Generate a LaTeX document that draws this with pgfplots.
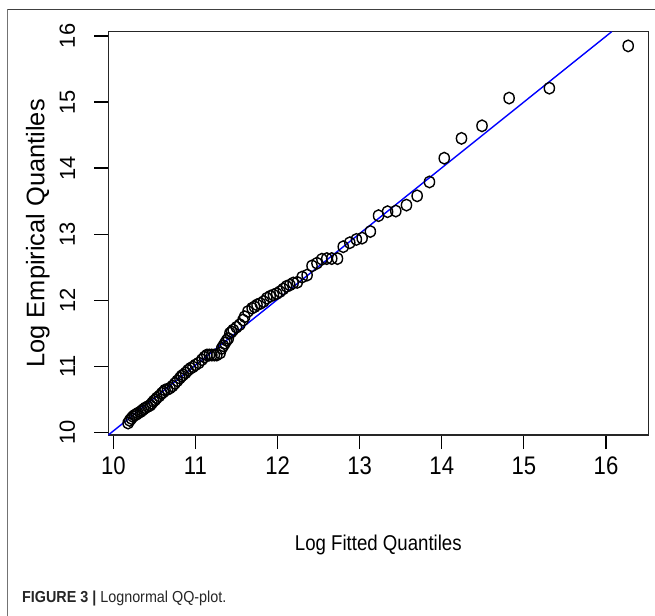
\documentclass[border=0pt]{standalone}
\usepackage{fontspec}
\setmainfont{Liberation Sans}
\newfontfamily\nfont[FakeStretch=0.87]{Liberation Sans}
\newfontfamily\cfont[FakeStretch=0.9]{Liberation Sans}
\usepackage{pgfplots}
\pgfplotsset{compat=1.18}
\pgfplotstableread{
x y
10.18 10.14
10.20 10.18
10.22 10.21
10.24 10.24
10.26 10.26
10.28 10.27
10.30 10.29
10.33 10.31
10.35 10.33
10.37 10.35
10.39 10.37
10.42 10.39
10.45 10.41
10.47 10.44
10.49 10.47
10.51 10.49
10.53 10.52
10.56 10.55
10.59 10.59
10.61 10.61
10.63 10.64
10.66 10.65
10.69 10.67
10.72 10.70
10.75 10.74
10.78 10.78
10.81 10.82
10.83 10.85
10.85 10.87
10.88 10.90
10.91 10.94
10.94 10.97
10.97 10.99
11.00 11.02
11.04 11.05
11.08 11.10
11.11 11.14
11.14 11.17
11.17 11.17
11.20 11.17
11.23 11.17
11.26 11.17
11.30 11.20
11.32 11.27
11.34 11.31
11.36 11.35
11.38 11.39
11.40 11.42
11.42 11.50
11.44 11.52
11.46 11.55
11.50 11.59
11.54 11.63
11.58 11.70
11.60 11.75
11.64 11.83
11.69 11.88
11.72 11.90
11.75 11.93
11.79 11.95
11.83 11.98
11.87 12.03
11.91 12.06
11.95 12.08
11.99 12.10
12.03 12.13
12.07 12.17
12.11 12.21
12.15 12.23
12.19 12.26
12.24 12.27
12.30 12.35
12.36 12.38
12.42 12.52
12.48 12.56
12.54 12.62
12.60 12.63
12.66 12.63
12.73 12.63
12.80 12.81
12.88 12.87
12.96 12.92
13.03 12.94
13.13 13.04
13.23 13.28
13.34 13.34
13.44 13.35
13.57 13.44
13.70 13.58
13.85 13.79
14.03 14.15
14.24 14.45
14.49 14.64
14.82 15.06
15.31 15.21
16.27 15.85
}\qqdata
\begin{document}
\begin{tikzpicture}
\useasboundingbox (0bp,0bp) rectangle (655bp,-616bp);
\draw[line width=1.2bp, black!55] (7.5bp,-616bp) -- (7.5bp,-9.3bp);
\draw[line width=1.2bp, black!75] (7.5bp,-9.3bp) -- (655bp,-9.3bp);
\begin{axis}[
  at={(108.3bp,-435bp)}, anchor=south west,
  width=540bp, height=403.3bp, scale only axis,
  xmin=9.939, xmax=16.515, ymin=9.959, ymax=16.065,
  xtick={10,11,12,13,14,15,16}, ytick={10,11,12,13,14,15,16},
  tick pos=left, tick align=outside,
  major tick length=14bp,
  every tick/.style={black, line width=1.2bp},
  axis line style={line width=1.3bp, black!85},
  /pgf/number format/assume math mode=true,
  xticklabel style={font=\nfont\fontsize{25.5}{25.5}\selectfont, anchor=north, inner sep=0pt},
  yticklabel style={font=\fontsize{22}{22}\selectfont, rotate=90, anchor=south, inner sep=0pt},
  xticklabel shift=8bp,
  yticklabel shift=19bp,
  every axis x label/.style={at={(rel axis cs:0.5,0)}, anchor=base, yshift=-115bp, font=\nfont\fontsize{21.5}{21.5}\selectfont},
  every axis y label/.style={at={(rel axis cs:0,0.5)}, xshift=-64bp, rotate=90, anchor=base, font=\fontsize{25.5}{25.5}\selectfont},
  xlabel={Log Fitted Quantiles},
  ylabel={Log Empirical Quantiles},
  clip=true,
]
\addplot[only marks, mark=o, mark size=5.8bp, mark options={line width=1.4bp, xscale=0.88}, black] table[x=x,y=y] {\qqdata};
\addplot[blue, line width=1.4bp] coordinates {(9.939,9.959) (16.069,16.065)};
\end{axis}
\node[anchor=base west, inner sep=0pt, font=\cfont\fontsize{16}{16}\selectfont, text=black!85] at (22bp,-602.5bp) {\textbf{FIGURE 3 |} Lognormal QQ-plot.};
\end{tikzpicture}
\end{document}
